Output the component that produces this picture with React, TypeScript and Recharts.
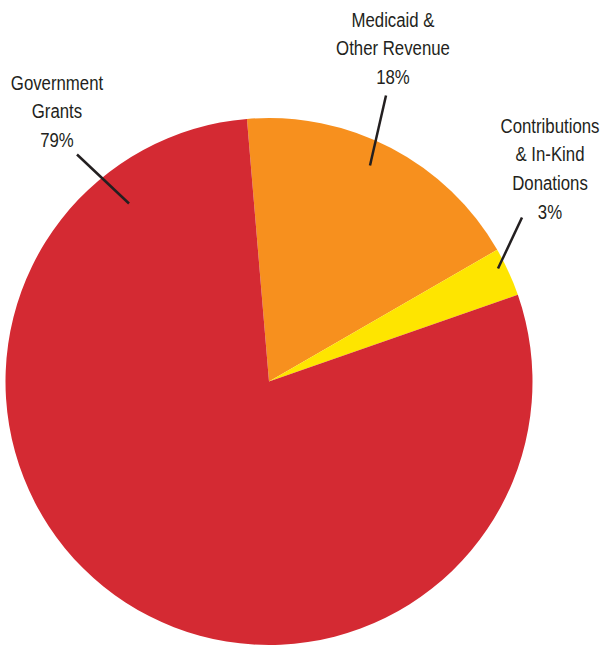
import { PieChart, Pie, Cell } from 'recharts'

// Revenue sources, in clockwise order starting just left of 12 o'clock
const categories = ['Medicaid & Other Revenue', 'Contributions & In-Kind Donations', 'Government Grants']
const shares = [18, 3, 79]
const labelLines = [
  ['Medicaid &', 'Other Revenue', '18%'],
  ['Contributions', '& In-Kind', 'Donations', '3%'],
  ['Government', 'Grants', '79%'],
]
const colors = ['#f7901e', '#fee500', '#d42a33']

const data = categories.map((name, i) => ({ name, value: shares[i] }))

// label placement relative to the pie centre (leader line start/end, text centre, first baseline)
const labelLayout = [
  { x1: 101, y1: -216, x2: 117, y2: -286, tx: 124, ty: -355 },
  { x1: 229, y1: -113, x2: 253, y2: -164, tx: 281, ty: -249 },
  { x1: -140, y1: -178, x2: -192, y2: -227, tx: -212, ty: -292 },
]

const renderLabel = (props: any) => {
  const { cx, cy, index } = props
  const l = labelLayout[index]
  const lines = labelLines[index]
  return (
    <g>
      <line
        x1={cx + l.x1}
        y1={cy + l.y1}
        x2={cx + l.x2}
        y2={cy + l.y2}
        stroke="#231f20"
        strokeWidth={2.5}
      />
      {/* condensed look: regular sans squeezed horizontally */}
      <g transform={`translate(${cx + l.tx},${cy + l.ty}) scale(0.8,1)`}>
        <text
          x={0}
          y={0}
          textAnchor="middle"
          fill="#231f20"
          fontSize={21}
          fontFamily="'Liberation Sans', Arial, sans-serif"
        >
          {lines.map((t, i) => (
            <tspan key={i} x={0} dy={i === 0 ? 0 : 29}>
              {t}
            </tspan>
          ))}
        </text>
      </g>
    </g>
  )
}

export default function App() {
  return (
    <div style={{ position: 'absolute', left: 0, top: 0 }}>
      <PieChart width={602} height={647} margin={{ top: 0, right: 0, bottom: 0, left: 0 }}>
        <Pie
          data={data}
          dataKey="value"
          nameKey="name"
          cx={269}
          cy={381.5}
          outerRadius={263.5}
          startAngle={94.8}
          endAngle={-265.2}
          stroke="none"
          label={renderLabel}
          labelLine={false}
          isAnimationActive={false}
        >
          {data.map((d, i) => (
            <Cell key={d.name} fill={colors[i]} />
          ))}
        </Pie>
      </PieChart>
    </div>
  )
}
